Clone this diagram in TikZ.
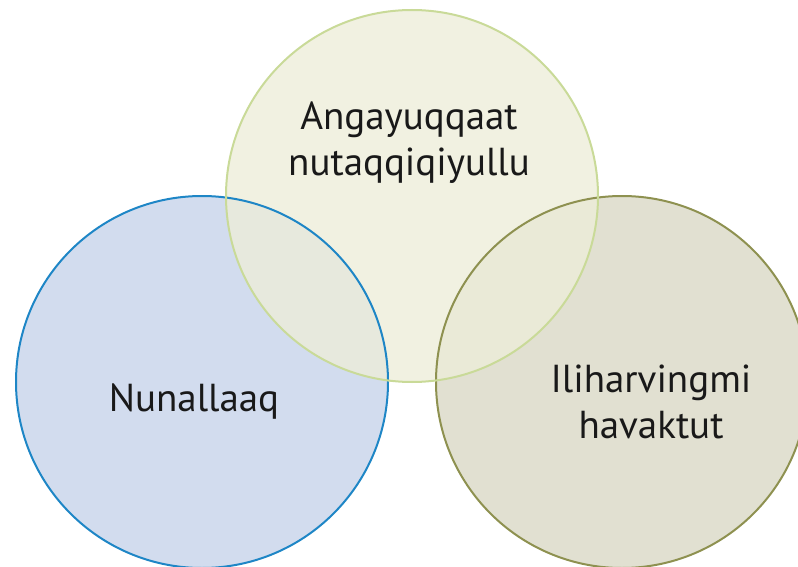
\documentclass[tikz,border=0pt]{standalone}
\usepackage{fontspec}
\setmainfont{PT Sans}
\definecolor{topfill}{HTML}{EDEDD9}
\definecolor{topline}{HTML}{C9DA98}
\definecolor{leftfill}{HTML}{D2DCEE}
\definecolor{leftline}{HTML}{1E86C6}
\definecolor{rightfill}{HTML}{E1E0D1}
\definecolor{rightline}{HTML}{8E9150}
\tikzset{
  bubble/.style={circle,minimum size=372pt,inner sep=0pt},
  rim/.style={line width=2pt},
  word/.style={align=center,font=\fontsize{39}{46}\selectfont,text=black!90}
}
\begin{document}
\begin{tikzpicture}[x=1pt,y=-1pt]
\useasboundingbox (0,0) rectangle (798,567);
\clip (0,0) rectangle (798,567);
% the three fills
\node[bubble,fill=leftfill] (nunallaaq) at (202,382) {};
\node[bubble,fill=rightfill] (iliharvingmi) at (622,382) {};
\node[bubble,fill=topfill,fill opacity=0.8] (angayuqqaat) at (412,196) {};
% the rims
\draw[rim,leftline] (nunallaaq.center) circle (186);
\draw[rim,rightline] (iliharvingmi.center) circle (186);
\draw[rim,topline] (angayuqqaat.center) circle (186);
% texts
\node[word] (toptext) at (409,143) {Angayuqqaat\\nutaqqiqiyullu};
\node[word] (lefttext) at (194,402) {Nunallaaq};
\node[word] (righttext) at (651,402) {Iliharvingmi\\havaktut};
\end{tikzpicture}
\end{document}
